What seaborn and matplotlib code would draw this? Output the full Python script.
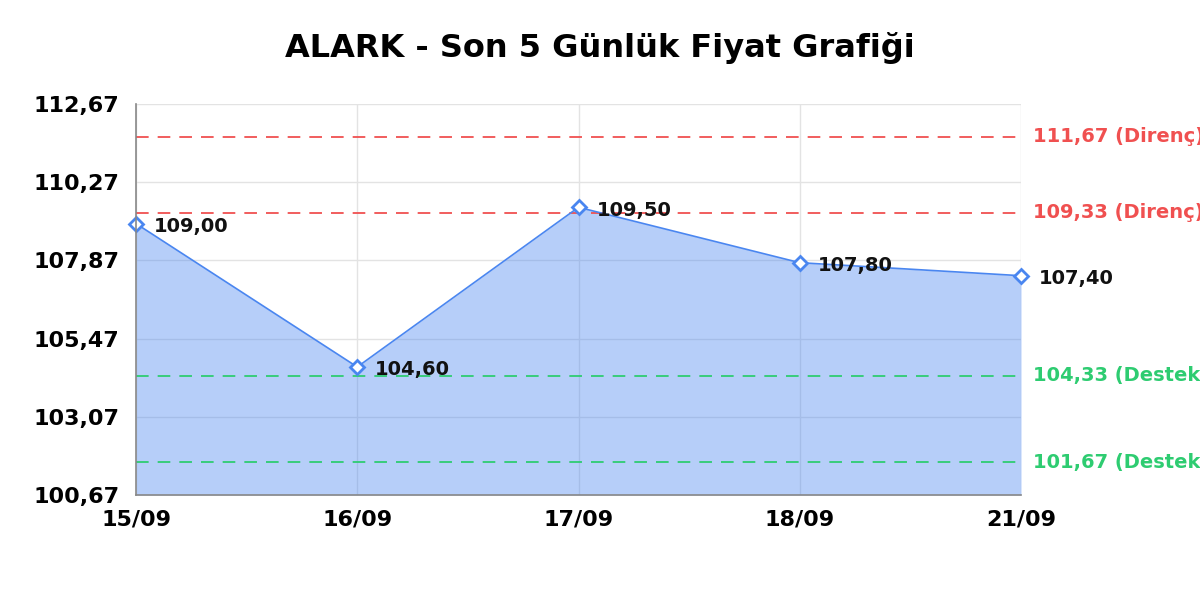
import matplotlib
matplotlib.use("Agg")
import matplotlib.pyplot as plt
import seaborn as sns
import pandas as pd

dates = ["15/09", "16/09", "17/09", "18/09", "21/09"]
prices = [109.00, 104.60, 109.50, 107.80, 107.40]
price_labels = ["109,00", "104,60", "109,50", "107,80", "107,40"]

resistance = [111.67, 109.33]
resistance_labels = ["111,67 (Direnç)", "109,33 (Direnç)"]
support = [104.33, 101.67]
support_labels = ["104,33 (Destek)", "101,67 (Destek)"]

y_ticks = [100.67, 103.07, 105.47, 107.87, 110.27, 112.67]
y_tick_labels = ["100,67", "103,07", "105,47", "107,87", "110,27", "112,67"]

title = "ALARK - Son 5 Günlük Fiyat Grafiği"

sns.set_style("white")
plt.rcParams['font.family'] = ['DejaVu Sans']
plt.rcParams['text.color'] = 'black'
plt.rcParams['xtick.color'] = 'black'
plt.rcParams['ytick.color'] = 'black'

LINE = "#4a86f0"
RED = "#f05050"
GREEN = "#2ecc71"

fig = plt.figure(figsize=(12, 6), dpi=100)
ax = fig.add_axes([136/1200, 1-495/600, (1021-136)/1200, (495-104)/600])

df = pd.DataFrame({"x": range(len(dates)), "price": prices})

for v in y_ticks:
    ax.axhline(v, color="#e3e3e3", lw=1, zorder=0.5)
for i in range(len(dates)):
    ax.axvline(i, color="#e3e3e3", lw=1, zorder=0.5)

ax.fill_between(df["x"], y_ticks[0], df["price"], color=LINE, alpha=0.4,
                zorder=1, lw=0)

for v, lab in zip(resistance, resistance_labels):
    ax.axhline(v, color=RED, lw=1.3, ls=(0, (7, 5)), zorder=2)
    ax.text(1.013, v, lab, transform=ax.get_yaxis_transform(), color=RED,
            fontsize=14, fontweight="bold", va="center", ha="left", clip_on=False)
for v, lab in zip(support, support_labels):
    ax.axhline(v, color=GREEN, lw=1.3, ls=(0, (7, 5)), zorder=2)
    ax.text(1.013, v, lab, transform=ax.get_yaxis_transform(), color=GREEN,
            fontsize=14, fontweight="bold", va="center", ha="left", clip_on=False)

sns.lineplot(data=df, x="x", y="price", ax=ax, color=LINE, lw=1.2,
             marker="D", markersize=7, markerfacecolor="white",
             markeredgecolor=LINE, markeredgewidth=2, zorder=3, clip_on=False)

for i, (p, lab) in enumerate(zip(prices, price_labels)):
    ax.annotate(lab, (i, p), xytext=(13, -2), textcoords="offset points",
                fontsize=14, fontweight="bold", va="center", ha="left",
                color="#111111", zorder=4, annotation_clip=False)

ax.set_xlim(0, len(dates)-1)
ax.set_ylim(y_ticks[0], y_ticks[-1])
ax.set_xticks(range(len(dates)))
ax.set_xticklabels(dates, fontsize=16, fontweight="bold")
ax.set_yticks(y_ticks)
ax.set_yticklabels(y_tick_labels, fontsize=16, fontweight="bold")
ax.tick_params(axis="y", length=0, pad=12)
ax.tick_params(axis="x", length=0, pad=10.5)
ax.set_xlabel("")
ax.set_ylabel("")

for s in ["top", "right"]:
    ax.spines[s].set_visible(False)
for s in ["left", "bottom"]:
    ax.spines[s].set_color("#888888")
    ax.spines[s].set_linewidth(1.2)
    ax.spines[s].set_zorder(5)

fig.text(0.5, 1-48/600, title, ha="center", va="center", fontsize=23,
         fontweight="bold", color="black")

fig.savefig("out.png", dpi=100)
